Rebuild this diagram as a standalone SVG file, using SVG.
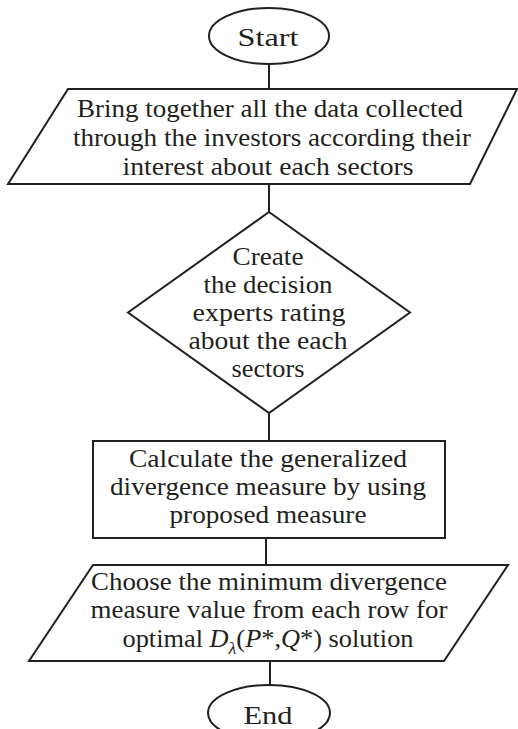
<svg xmlns="http://www.w3.org/2000/svg" width="518" height="729" viewBox="0 0 518 729" font-family="'Liberation Serif', 'DejaVu Serif', 'Times New Roman', serif">
<style>
.s{fill:#fff;stroke:#231f20;stroke-width:2}
.c{stroke:#231f20;stroke-width:2;fill:none}
text{font-size:25px;fill:#231f20;text-anchor:middle}
.i{font-style:italic}
</style>
<rect width="518" height="729" fill="#fff"/>
<g id="connectors">
<line class="c" x1="269" y1="64" x2="269" y2="89"/>
<line class="c" x1="269" y1="184" x2="269" y2="212"/>
<line class="c" x1="269" y1="413" x2="269" y2="441"/>
<line class="c" x1="266" y1="538" x2="266" y2="565"/>
<line class="c" x1="270" y1="661" x2="270" y2="685"/>
</g>
<g id="start">
<ellipse class="s" cx="269" cy="36" rx="60" ry="28"/>
<text x="268" y="46" textLength="61" lengthAdjust="spacingAndGlyphs">Start</text>
</g>
<g id="collect">
<polygon class="s" points="68,89 517,89 470,184 8,184"/>
<text x="270" y="117" textLength="386" lengthAdjust="spacingAndGlyphs">Bring together all the data collected</text>
<text x="272" y="146" textLength="398" lengthAdjust="spacingAndGlyphs">through the investors according their</text>
<text x="268" y="175" textLength="291" lengthAdjust="spacingAndGlyphs">interest about each sectors</text>
</g>
<g id="rating">
<polygon class="s" points="269,212 410,312.5 269,413 128,312.5"/>
<text x="268" y="265" textLength="71" lengthAdjust="spacingAndGlyphs">Create</text>
<text x="268" y="293" textLength="129" lengthAdjust="spacingAndGlyphs">the decision</text>
<text x="269" y="321" textLength="153" lengthAdjust="spacingAndGlyphs">experts rating</text>
<text x="268" y="349" textLength="159" lengthAdjust="spacingAndGlyphs">about the each</text>
<text x="268" y="377" textLength="73" lengthAdjust="spacingAndGlyphs">sectors</text>
</g>
<g id="calculate">
<rect class="s" x="93" y="441" width="352" height="97"/>
<text x="268" y="467" textLength="278" lengthAdjust="spacingAndGlyphs">Calculate the generalized</text>
<text x="268" y="495" textLength="316" lengthAdjust="spacingAndGlyphs">divergence measure by using</text>
<text x="268" y="523" textLength="197" lengthAdjust="spacingAndGlyphs">proposed measure</text>
</g>
<g id="choose">
<polygon class="s" points="93,565 508,565 444,661 29,661"/>
<text x="269" y="590" textLength="356" lengthAdjust="spacingAndGlyphs">Choose the minimum divergence</text>
<text x="269" y="618" textLength="357" lengthAdjust="spacingAndGlyphs">measure value from each row for</text>
<text x="268" y="647" textLength="291" lengthAdjust="spacingAndGlyphs">optimal <tspan class="i">D</tspan><tspan font-size="17" dy="7" class="i">λ</tspan><tspan dy="-7">(</tspan><tspan class="i">P</tspan>*,<tspan class="i">Q</tspan>*) solution</text>
</g>
<g id="end">
<ellipse class="s" cx="269" cy="713" rx="61" ry="28"/>
<text x="268" y="724" textLength="49" lengthAdjust="spacingAndGlyphs">End</text>
</g>
</svg>
